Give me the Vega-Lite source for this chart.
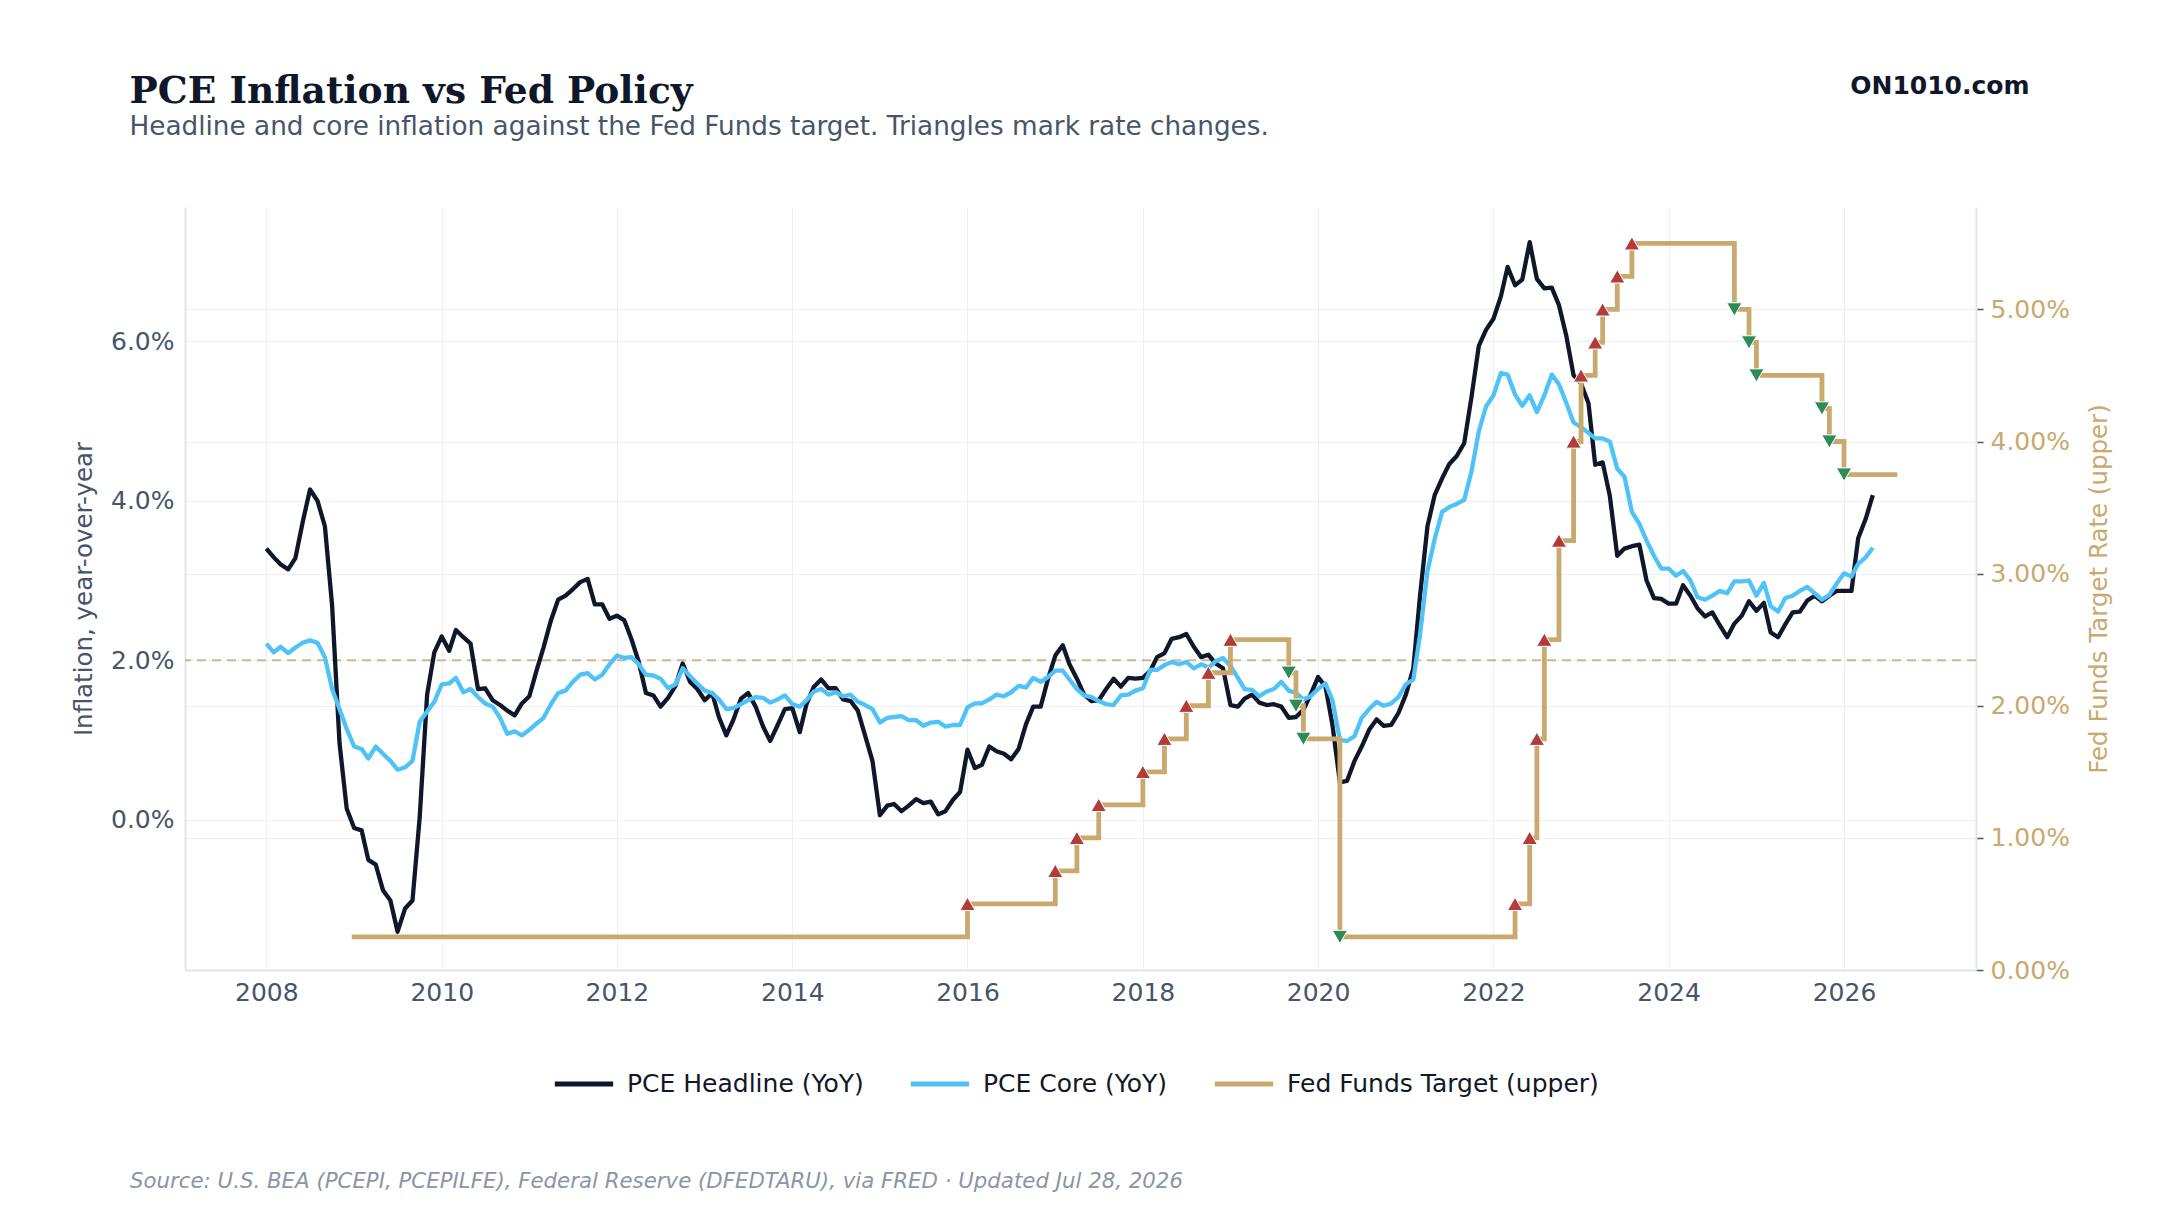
{
  "$schema": "https://vega.github.io/schema/vega-lite/v6.json",
  "width": 1791,
  "height": 763,
  "autosize": {"type": "none"},
  "padding": {"left": 185, "top": 207, "right": 184, "bottom": 245},
  "background": "white",
  "config": {
    "font": "DejaVu Sans",
    "view": {"stroke": null},
    "axis": {"gridColor": "#eceff3", "gridWidth": 1, "domainColor": "#e2e6eb", "domainWidth": 2, "labelFontSize": 25, "labelColor": "#475569", "titleFontWeight": "normal", "titleFontSize": 24.5}
  },
  "title": {
    "text": "PCE Inflation vs Fed Policy",
    "subtitle": "Headline and core inflation against the Fed Funds target. Triangles mark rate changes.",
    "anchor": "start",
    "frame": "group",
    "dx": -55.5,
    "offset": -67.4,
    "baseline": "top",
    "font": "DejaVu Serif",
    "fontWeight": "bold",
    "fontSize": 37.6,
    "color": "#0f172a",
    "subtitleFont": "DejaVu Sans",
    "subtitleFontSize": 26.3,
    "subtitleColor": "#475569",
    "subtitlePadding": 3.7
  },
  "datasets": {
    "pce": [
      {"date": "2008-01-01", "headline": 3.40, "core": 2.21},
      {"date": "2008-02-01", "headline": 3.29, "core": 2.10},
      {"date": "2008-03-01", "headline": 3.20, "core": 2.17},
      {"date": "2008-04-01", "headline": 3.14, "core": 2.09},
      {"date": "2008-05-01", "headline": 3.28, "core": 2.16},
      {"date": "2008-06-01", "headline": 3.74, "core": 2.22},
      {"date": "2008-07-01", "headline": 4.14, "core": 2.25},
      {"date": "2008-08-01", "headline": 4.00, "core": 2.22},
      {"date": "2008-09-01", "headline": 3.68, "core": 2.04},
      {"date": "2008-10-01", "headline": 2.69, "core": 1.64},
      {"date": "2008-11-01", "headline": 0.96, "core": 1.39},
      {"date": "2008-12-01", "headline": 0.14, "core": 1.14},
      {"date": "2009-01-01", "headline": -0.10, "core": 0.92},
      {"date": "2009-02-01", "headline": -0.13, "core": 0.89},
      {"date": "2009-03-01", "headline": -0.50, "core": 0.77},
      {"date": "2009-04-01", "headline": -0.56, "core": 0.92},
      {"date": "2009-05-01", "headline": -0.88, "core": 0.83},
      {"date": "2009-06-01", "headline": -1.01, "core": 0.74},
      {"date": "2009-07-01", "headline": -1.40, "core": 0.63},
      {"date": "2009-08-01", "headline": -1.11, "core": 0.66},
      {"date": "2009-09-01", "headline": -1.01, "core": 0.74},
      {"date": "2009-10-01", "headline": 0.03, "core": 1.23},
      {"date": "2009-11-01", "headline": 1.57, "core": 1.36},
      {"date": "2009-12-01", "headline": 2.10, "core": 1.48},
      {"date": "2010-01-01", "headline": 2.30, "core": 1.70},
      {"date": "2010-02-01", "headline": 2.12, "core": 1.71},
      {"date": "2010-03-01", "headline": 2.38, "core": 1.78},
      {"date": "2010-04-01", "headline": 2.29, "core": 1.60},
      {"date": "2010-05-01", "headline": 2.21, "core": 1.64},
      {"date": "2010-06-01", "headline": 1.64, "core": 1.54},
      {"date": "2010-07-01", "headline": 1.65, "core": 1.46},
      {"date": "2010-08-01", "headline": 1.50, "core": 1.42},
      {"date": "2010-09-01", "headline": 1.44, "core": 1.28},
      {"date": "2010-10-01", "headline": 1.37, "core": 1.08},
      {"date": "2010-11-01", "headline": 1.31, "core": 1.11},
      {"date": "2010-12-01", "headline": 1.46, "core": 1.06},
      {"date": "2011-01-01", "headline": 1.55, "core": 1.13},
      {"date": "2011-02-01", "headline": 1.88, "core": 1.21},
      {"date": "2011-03-01", "headline": 2.16, "core": 1.28},
      {"date": "2011-04-01", "headline": 2.50, "core": 1.45},
      {"date": "2011-05-01", "headline": 2.76, "core": 1.59},
      {"date": "2011-06-01", "headline": 2.81, "core": 1.62},
      {"date": "2011-07-01", "headline": 2.89, "core": 1.73},
      {"date": "2011-08-01", "headline": 2.98, "core": 1.82},
      {"date": "2011-09-01", "headline": 3.02, "core": 1.84},
      {"date": "2011-10-01", "headline": 2.70, "core": 1.76},
      {"date": "2011-11-01", "headline": 2.70, "core": 1.82},
      {"date": "2011-12-01", "headline": 2.52, "core": 1.95},
      {"date": "2012-01-01", "headline": 2.56, "core": 2.06},
      {"date": "2012-02-01", "headline": 2.50, "core": 2.03},
      {"date": "2012-03-01", "headline": 2.27, "core": 2.04},
      {"date": "2012-04-01", "headline": 1.98, "core": 1.95},
      {"date": "2012-05-01", "headline": 1.59, "core": 1.82},
      {"date": "2012-06-01", "headline": 1.56, "core": 1.81},
      {"date": "2012-07-01", "headline": 1.42, "core": 1.77},
      {"date": "2012-08-01", "headline": 1.53, "core": 1.65},
      {"date": "2012-09-01", "headline": 1.68, "core": 1.70},
      {"date": "2012-10-01", "headline": 1.96, "core": 1.90},
      {"date": "2012-11-01", "headline": 1.73, "core": 1.80},
      {"date": "2012-12-01", "headline": 1.64, "core": 1.71},
      {"date": "2013-01-01", "headline": 1.50, "core": 1.62},
      {"date": "2013-02-01", "headline": 1.59, "core": 1.59},
      {"date": "2013-03-01", "headline": 1.29, "core": 1.51},
      {"date": "2013-04-01", "headline": 1.06, "core": 1.39},
      {"date": "2013-05-01", "headline": 1.26, "core": 1.40},
      {"date": "2013-06-01", "headline": 1.52, "core": 1.45},
      {"date": "2013-07-01", "headline": 1.59, "core": 1.50},
      {"date": "2013-08-01", "headline": 1.42, "core": 1.54},
      {"date": "2013-09-01", "headline": 1.17, "core": 1.53},
      {"date": "2013-10-01", "headline": 0.99, "core": 1.47},
      {"date": "2013-11-01", "headline": 1.19, "core": 1.51},
      {"date": "2013-12-01", "headline": 1.39, "core": 1.56},
      {"date": "2014-01-01", "headline": 1.40, "core": 1.45},
      {"date": "2014-02-01", "headline": 1.10, "core": 1.42},
      {"date": "2014-03-01", "headline": 1.45, "core": 1.50},
      {"date": "2014-04-01", "headline": 1.67, "core": 1.61},
      {"date": "2014-05-01", "headline": 1.76, "core": 1.64},
      {"date": "2014-06-01", "headline": 1.65, "core": 1.57},
      {"date": "2014-07-01", "headline": 1.65, "core": 1.60},
      {"date": "2014-08-01", "headline": 1.51, "core": 1.55},
      {"date": "2014-09-01", "headline": 1.49, "core": 1.57},
      {"date": "2014-10-01", "headline": 1.37, "core": 1.48},
      {"date": "2014-11-01", "headline": 1.05, "core": 1.44},
      {"date": "2014-12-01", "headline": 0.74, "core": 1.39},
      {"date": "2015-01-01", "headline": 0.06, "core": 1.22},
      {"date": "2015-02-01", "headline": 0.18, "core": 1.28},
      {"date": "2015-03-01", "headline": 0.20, "core": 1.29},
      {"date": "2015-04-01", "headline": 0.11, "core": 1.30},
      {"date": "2015-05-01", "headline": 0.18, "core": 1.25},
      {"date": "2015-06-01", "headline": 0.26, "core": 1.25},
      {"date": "2015-07-01", "headline": 0.21, "core": 1.18},
      {"date": "2015-08-01", "headline": 0.23, "core": 1.22},
      {"date": "2015-09-01", "headline": 0.07, "core": 1.23},
      {"date": "2015-10-01", "headline": 0.11, "core": 1.17},
      {"date": "2015-11-01", "headline": 0.25, "core": 1.19},
      {"date": "2015-12-01", "headline": 0.35, "core": 1.19},
      {"date": "2016-01-01", "headline": 0.88, "core": 1.41},
      {"date": "2016-02-01", "headline": 0.65, "core": 1.46},
      {"date": "2016-03-01", "headline": 0.69, "core": 1.46},
      {"date": "2016-04-01", "headline": 0.92, "core": 1.51},
      {"date": "2016-05-01", "headline": 0.86, "core": 1.57},
      {"date": "2016-06-01", "headline": 0.83, "core": 1.55},
      {"date": "2016-07-01", "headline": 0.76, "core": 1.60},
      {"date": "2016-08-01", "headline": 0.89, "core": 1.68},
      {"date": "2016-09-01", "headline": 1.20, "core": 1.66},
      {"date": "2016-10-01", "headline": 1.42, "core": 1.78},
      {"date": "2016-11-01", "headline": 1.42, "core": 1.73},
      {"date": "2016-12-01", "headline": 1.76, "core": 1.79},
      {"date": "2017-01-01", "headline": 2.06, "core": 1.87},
      {"date": "2017-02-01", "headline": 2.19, "core": 1.87},
      {"date": "2017-03-01", "headline": 1.95, "core": 1.76},
      {"date": "2017-04-01", "headline": 1.77, "core": 1.64},
      {"date": "2017-05-01", "headline": 1.57, "core": 1.56},
      {"date": "2017-06-01", "headline": 1.49, "core": 1.54},
      {"date": "2017-07-01", "headline": 1.50, "core": 1.49},
      {"date": "2017-08-01", "headline": 1.64, "core": 1.45},
      {"date": "2017-09-01", "headline": 1.77, "core": 1.44},
      {"date": "2017-10-01", "headline": 1.67, "core": 1.56},
      {"date": "2017-11-01", "headline": 1.78, "core": 1.57},
      {"date": "2017-12-01", "headline": 1.77, "core": 1.62},
      {"date": "2018-01-01", "headline": 1.78, "core": 1.65},
      {"date": "2018-02-01", "headline": 1.87, "core": 1.88},
      {"date": "2018-03-01", "headline": 2.04, "core": 1.88},
      {"date": "2018-04-01", "headline": 2.09, "core": 1.94},
      {"date": "2018-05-01", "headline": 2.27, "core": 1.98},
      {"date": "2018-06-01", "headline": 2.29, "core": 1.95},
      {"date": "2018-07-01", "headline": 2.33, "core": 1.98},
      {"date": "2018-08-01", "headline": 2.17, "core": 1.90},
      {"date": "2018-09-01", "headline": 2.04, "core": 1.95},
      {"date": "2018-10-01", "headline": 2.07, "core": 1.91},
      {"date": "2018-11-01", "headline": 1.96, "core": 1.99},
      {"date": "2018-12-01", "headline": 1.90, "core": 2.03},
      {"date": "2019-01-01", "headline": 1.44, "core": 1.93},
      {"date": "2019-02-01", "headline": 1.42, "core": 1.78},
      {"date": "2019-03-01", "headline": 1.52, "core": 1.64},
      {"date": "2019-04-01", "headline": 1.57, "core": 1.63},
      {"date": "2019-05-01", "headline": 1.47, "core": 1.55},
      {"date": "2019-06-01", "headline": 1.44, "core": 1.61},
      {"date": "2019-07-01", "headline": 1.45, "core": 1.64},
      {"date": "2019-08-01", "headline": 1.42, "core": 1.73},
      {"date": "2019-09-01", "headline": 1.28, "core": 1.62},
      {"date": "2019-10-01", "headline": 1.29, "core": 1.59},
      {"date": "2019-11-01", "headline": 1.38, "core": 1.51},
      {"date": "2019-12-01", "headline": 1.57, "core": 1.55},
      {"date": "2020-01-01", "headline": 1.79, "core": 1.64},
      {"date": "2020-02-01", "headline": 1.67, "core": 1.71},
      {"date": "2020-03-01", "headline": 1.19, "core": 1.50},
      {"date": "2020-04-01", "headline": 0.47, "core": 1.00},
      {"date": "2020-05-01", "headline": 0.49, "core": 0.99},
      {"date": "2020-06-01", "headline": 0.74, "core": 1.05},
      {"date": "2020-07-01", "headline": 0.92, "core": 1.28},
      {"date": "2020-08-01", "headline": 1.13, "core": 1.39},
      {"date": "2020-09-01", "headline": 1.26, "core": 1.48},
      {"date": "2020-10-01", "headline": 1.18, "core": 1.43},
      {"date": "2020-11-01", "headline": 1.19, "core": 1.46},
      {"date": "2020-12-01", "headline": 1.34, "core": 1.54},
      {"date": "2021-01-01", "headline": 1.57, "core": 1.70},
      {"date": "2021-02-01", "headline": 1.90, "core": 1.76},
      {"date": "2021-03-01", "headline": 2.81, "core": 2.32},
      {"date": "2021-04-01", "headline": 3.68, "core": 3.12},
      {"date": "2021-05-01", "headline": 4.07, "core": 3.52},
      {"date": "2021-06-01", "headline": 4.28, "core": 3.86},
      {"date": "2021-07-01", "headline": 4.46, "core": 3.92},
      {"date": "2021-08-01", "headline": 4.56, "core": 3.96},
      {"date": "2021-09-01", "headline": 4.72, "core": 4.01},
      {"date": "2021-10-01", "headline": 5.29, "core": 4.36},
      {"date": "2021-11-01", "headline": 5.94, "core": 4.87},
      {"date": "2021-12-01", "headline": 6.14, "core": 5.18},
      {"date": "2022-01-01", "headline": 6.28, "core": 5.32},
      {"date": "2022-02-01", "headline": 6.56, "core": 5.60},
      {"date": "2022-03-01", "headline": 6.93, "core": 5.58},
      {"date": "2022-04-01", "headline": 6.70, "core": 5.33},
      {"date": "2022-05-01", "headline": 6.77, "core": 5.19},
      {"date": "2022-06-01", "headline": 7.24, "core": 5.32},
      {"date": "2022-07-01", "headline": 6.78, "core": 5.11},
      {"date": "2022-08-01", "headline": 6.66, "core": 5.32},
      {"date": "2022-09-01", "headline": 6.67, "core": 5.58},
      {"date": "2022-10-01", "headline": 6.45, "core": 5.46},
      {"date": "2022-11-01", "headline": 6.06, "core": 5.22},
      {"date": "2022-12-01", "headline": 5.57, "core": 4.98},
      {"date": "2023-01-01", "headline": 5.47, "core": 4.92},
      {"date": "2023-02-01", "headline": 5.22, "core": 4.85},
      {"date": "2023-03-01", "headline": 4.45, "core": 4.78},
      {"date": "2023-04-01", "headline": 4.48, "core": 4.78},
      {"date": "2023-05-01", "headline": 4.06, "core": 4.74},
      {"date": "2023-06-01", "headline": 3.31, "core": 4.40},
      {"date": "2023-07-01", "headline": 3.40, "core": 4.30},
      {"date": "2023-08-01", "headline": 3.43, "core": 3.86},
      {"date": "2023-09-01", "headline": 3.45, "core": 3.71},
      {"date": "2023-10-01", "headline": 3.00, "core": 3.50},
      {"date": "2023-11-01", "headline": 2.78, "core": 3.31},
      {"date": "2023-12-01", "headline": 2.77, "core": 3.15},
      {"date": "2024-01-01", "headline": 2.71, "core": 3.15},
      {"date": "2024-02-01", "headline": 2.71, "core": 3.06},
      {"date": "2024-03-01", "headline": 2.94, "core": 3.12},
      {"date": "2024-04-01", "headline": 2.81, "core": 3.00},
      {"date": "2024-05-01", "headline": 2.65, "core": 2.79},
      {"date": "2024-06-01", "headline": 2.55, "core": 2.76},
      {"date": "2024-07-01", "headline": 2.60, "core": 2.81},
      {"date": "2024-08-01", "headline": 2.44, "core": 2.87},
      {"date": "2024-09-01", "headline": 2.29, "core": 2.84},
      {"date": "2024-10-01", "headline": 2.46, "core": 2.99},
      {"date": "2024-11-01", "headline": 2.56, "core": 2.99},
      {"date": "2024-12-01", "headline": 2.74, "core": 3.00},
      {"date": "2025-01-01", "headline": 2.62, "core": 2.81},
      {"date": "2025-02-01", "headline": 2.72, "core": 2.97},
      {"date": "2025-03-01", "headline": 2.35, "core": 2.68},
      {"date": "2025-04-01", "headline": 2.29, "core": 2.61},
      {"date": "2025-05-01", "headline": 2.45, "core": 2.78},
      {"date": "2025-06-01", "headline": 2.60, "core": 2.81},
      {"date": "2025-07-01", "headline": 2.61, "core": 2.87},
      {"date": "2025-08-01", "headline": 2.75, "core": 2.92},
      {"date": "2025-09-01", "headline": 2.81, "core": 2.84},
      {"date": "2025-10-01", "headline": 2.74, "core": 2.76},
      {"date": "2025-11-01", "headline": 2.81, "core": 2.82},
      {"date": "2025-12-01", "headline": 2.87, "core": 2.96},
      {"date": "2026-01-01", "headline": 2.87, "core": 3.09},
      {"date": "2026-02-01", "headline": 2.87, "core": 3.05},
      {"date": "2026-03-01", "headline": 3.53, "core": 3.21},
      {"date": "2026-04-01", "headline": 3.77, "core": 3.29},
      {"date": "2026-05-01", "headline": 4.07, "core": 3.41}
    ],
    "ffr": [
      {"date": "2009-01-01", "rate": 0.25, "move": ""},
      {"date": "2016-01-01", "rate": 0.50, "move": "hike"},
      {"date": "2017-01-01", "rate": 0.75, "move": "hike"},
      {"date": "2017-04-01", "rate": 1.00, "move": "hike"},
      {"date": "2017-07-01", "rate": 1.25, "move": "hike"},
      {"date": "2018-01-01", "rate": 1.50, "move": "hike"},
      {"date": "2018-04-01", "rate": 1.75, "move": "hike"},
      {"date": "2018-07-01", "rate": 2.00, "move": "hike"},
      {"date": "2018-10-01", "rate": 2.25, "move": "hike"},
      {"date": "2019-01-01", "rate": 2.50, "move": "hike"},
      {"date": "2019-09-01", "rate": 2.25, "move": "cut"},
      {"date": "2019-10-01", "rate": 2.00, "move": "cut"},
      {"date": "2019-11-01", "rate": 1.75, "move": "cut"},
      {"date": "2020-04-01", "rate": 0.25, "move": "cut"},
      {"date": "2022-04-01", "rate": 0.50, "move": "hike"},
      {"date": "2022-06-01", "rate": 1.00, "move": "hike"},
      {"date": "2022-07-01", "rate": 1.75, "move": "hike"},
      {"date": "2022-08-01", "rate": 2.50, "move": "hike"},
      {"date": "2022-10-01", "rate": 3.25, "move": "hike"},
      {"date": "2022-12-01", "rate": 4.00, "move": "hike"},
      {"date": "2023-01-01", "rate": 4.50, "move": "hike"},
      {"date": "2023-03-01", "rate": 4.75, "move": "hike"},
      {"date": "2023-04-01", "rate": 5.00, "move": "hike"},
      {"date": "2023-06-01", "rate": 5.25, "move": "hike"},
      {"date": "2023-08-01", "rate": 5.50, "move": "hike"},
      {"date": "2024-10-01", "rate": 5.00, "move": "cut"},
      {"date": "2024-12-01", "rate": 4.75, "move": "cut"},
      {"date": "2025-01-01", "rate": 4.50, "move": "cut"},
      {"date": "2025-10-01", "rate": 4.25, "move": "cut"},
      {"date": "2025-11-01", "rate": 4.00, "move": "cut"},
      {"date": "2026-01-01", "rate": 3.75, "move": "cut"},
      {"date": "2026-08-01", "rate": 3.75, "move": ""}
    ]
  },
  "layer": [
    {
      "layer": [
        {
          "data": {"values": [{}]},
          "mark": {"type": "rule", "strokeDash": [9, 6], "strokeWidth": 2, "color": "#c9ab74", "opacity": 0.85},
          "encoding": {"y": {"datum": 2, "type": "quantitative"}}
        },
        {
          "data": {"name": "pce"},
          "transform": [{"fold": ["headline", "core"], "as": ["series", "value"]}],
          "mark": {"type": "line", "strokeWidth": 4.3, "strokeJoin": "round"},
          "encoding": {
            "x": {
              "field": "date", "type": "temporal",
              "scale": {"type": "utc", "domain": [{"year": 2007, "month": 1, "date": 27, "utc": true}, {"year": 2027, "month": 7, "date": 5, "utc": true}]},
              "axis": {
                "orient": "bottom",
                "tickCount": {"interval": "year", "step": 2},
                "labelExpr": "utcFormat(datum.value, '%Y')",
                "ticks": false,
                "grid": true,
                "labelPadding": 10,
                "title": "Source: U.S. BEA (PCEPI, PCEPILFE), Federal Reserve (DFEDTARU), via FRED · Updated Jul 28, 2026",
                "titleFontStyle": "italic",
                "titleFontSize": 21.3,
                "titleColor": "#8b95a5",
                "titleX": -55.5,
                "titleY": 217.5,
                "titleAlign": "left",
                "titleBaseline": "alphabetic",
                "titleLimit": 0
              }
            },
            "y": {
              "field": "value", "type": "quantitative",
              "scale": {"domain": [-1.88, 7.68], "nice": false, "zero": false},
              "axis": {
                "orient": "left",
                "values": [0, 2, 4, 6],
                "labelExpr": "format(datum.value, '.1f') + '%'",
                "ticks": false,
                "grid": true,
                "labelPadding": 11,
                "title": "Inflation, year-over-year",
                "titleColor": "#475569",
                "titlePadding": 14
              }
            },
            "color": {
              "field": "series", "type": "nominal",
              "scale": {"domain": ["headline", "core", "fed"], "range": ["#0f172a", "#4fc3f7", "#c9a96e"]},
              "legend": {
                "title": null,
                "orient": "none",
                "legendX": 367,
                "legendY": 845,
                "direction": "horizontal",
                "symbolType": "stroke",
                "symbolSize": 3400,
                "symbolStrokeWidth": 5,
                "labelFontSize": 25,
                "labelColor": "#111827",
                "labelOffset": 11,
                "columnPadding": 36,
                "labelLimit": 0,
                "padding": 0,
                "labelExpr": "datum.label == 'headline' ? 'PCE Headline (YoY)' : datum.label == 'core' ? 'PCE Core (YoY)' : 'Fed Funds Target (upper)'"
              }
            }
          }
        }
      ]
    },
    {
      "data": {"name": "ffr"},
      "layer": [
        {
          "mark": {"type": "line", "interpolate": "step-after", "strokeWidth": 4.8, "strokeCap": "square", "strokeJoin": "miter"},
          "encoding": {
            "x": {
              "field": "date", "type": "temporal",
              "scale": {"type": "utc", "domain": [{"year": 2007, "month": 1, "date": 27, "utc": true}, {"year": 2027, "month": 7, "date": 5, "utc": true}]},
              "axis": {
                "orient": "top",
                "labels": false,
                "ticks": false,
                "domain": false,
                "grid": false,
                "title": "ON1010.com",
                "titleFontWeight": "bold",
                "titleFontSize": 25,
                "titleColor": "#0f172a",
                "titleX": 1844,
                "titleY": -134,
                "titleAlign": "right",
                "titleBaseline": "top"
              }
            },
            "y": {
              "field": "rate", "type": "quantitative",
              "scale": {"domain": [0, 5.775], "nice": false, "zero": false},
              "axis": {
                "orient": "right",
                "values": [0, 1, 2, 3, 4, 5],
                "labelExpr": "format(datum.value, '.2f') + '%'",
                "labelColor": "#c9a96e",
                "ticks": true,
                "tickSize": 7,
                "tickWidth": 1.5,
                "tickColor": "#475569",
                "grid": true,
                "labelPadding": 7,
                "title": "Fed Funds Target Rate (upper)",
                "titleColor": "#c9a96e",
                "titleAngle": 270,
                "titlePadding": 42
              }
            },
            "color": {"datum": "fed"}
          }
        },
        {
          "transform": [{"filter": "datum.move != ''"}],
          "mark": {"type": "point", "filled": true, "opacity": 1, "size": 235, "stroke": "white", "strokeWidth": 1},
          "encoding": {
            "x": {"field": "date", "type": "temporal"},
            "y": {"field": "rate", "type": "quantitative"},
            "shape": {"field": "move", "type": "nominal", "scale": {"domain": ["hike", "cut"], "range": ["triangle-up", "triangle-down"]}, "legend": null},
            "fill": {"field": "move", "type": "nominal", "scale": {"domain": ["hike", "cut"], "range": ["#b23b3b", "#2e8b57"]}, "legend": null}
          }
        }
      ]
    }
  ],
  "resolve": {"scale": {"y": "independent"}}
}
